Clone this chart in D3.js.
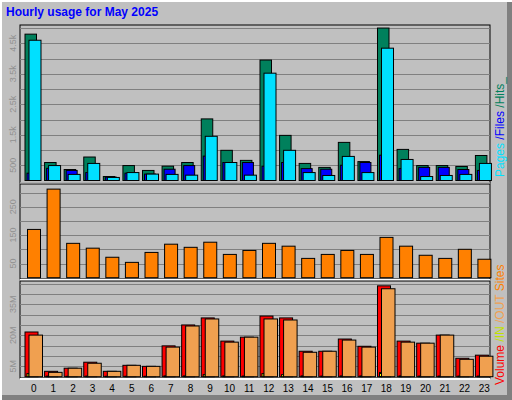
<!DOCTYPE html><html><head><meta charset="utf-8">
<script src="https://cdn.jsdelivr.net/npm/d3@7"></script>
<style>body{margin:0;background:#fff}</style></head><body>
<script>
const hours=d3.range(24).map(String);
const hits=[4800,590,360,770,130,490,330,470,590,2020,990,660,3950,1480,560,430,1250,620,5000,1020,490,490,460,820];
const files=[240,400,330,260,110,240,210,370,490,800,590,590,470,590,390,370,500,590,830,390,430,430,360,330];
const pages=[4600,490,200,560,100,260,210,200,175,1450,590,175,3520,990,260,165,790,260,4340,690,130,165,200,560];
const sites=[170,312,121,104,72,54,89,118,107,125,82,96,121,111,68,82,96,82,142,111,79,68,100,65];
const volume=[21.6,2.6,4.1,7.0,2.6,5.5,5.0,14.9,25.0,28.4,17.2,19.1,29.3,28.4,12.3,12.3,18.2,14.7,43.9,17.2,16.2,20.1,8.9,10.4];
const volIn=[1.5,0.3,0.2,0.3,0.2,0.2,0.2,0.4,0.4,1.0,0.4,0.3,1.5,1.0,0.4,0.3,0.4,0.4,2.0,0.4,0.3,0.3,0.3,0.3];
const volOut=[20.1,2.1,4.1,6.5,2.6,5.5,5.0,14.3,24.5,27.9,16.7,19.1,27.9,27.4,11.8,12.3,17.7,14.3,42.5,16.7,16.2,20.1,8.4,9.9];
const hitTicks=["500","1.5k","2.5k","3.5k","4.5k"], hitTickV=[500,1500,2500,3500,4500];
const siteTickV=[50,150,250], volTickV=[5,20,35];

const W=512,H=400;
const svg=d3.select("body").append("svg").attr("width",W).attr("height",H).style("font-family","Liberation Sans, Arial, sans-serif");
svg.append("rect").attr("width",W).attr("height",H).attr("fill","#c0c0c0");
svg.append("path").attr("d","M1,400V1H512").attr("stroke","#fff").attr("stroke-width",2).attr("fill","none");
svg.append("path").attr("d","M2,397.5H509.5V2").attr("stroke","#808080").attr("stroke-width",5).attr("fill","none");
svg.append("text").attr("x",6).attr("y",16).attr("fill","#0000ff").attr("font-weight","bold").attr("font-size",12).text("Hourly usage for May 2025");

const x=d3.scaleBand().domain(hours).range([20,490]);
const L=20,R=490;
function panel(top,bot){
  svg.append("rect").attr("x",L).attr("y",top).attr("width",R-L).attr("height",bot-top).attr("fill","#c0c0c0").attr("stroke","#000").attr("stroke-width",1);
}
function grid(y,step,max,top){
  for(let v=step;v<max;v+=step){const yy=Math.round(y(v))+0.5; if(yy>top+2) svg.append("line").attr("x1",L).attr("x2",R).attr("y1",yy).attr("y2",yy).attr("stroke","#808080");}
}
function ylabels(y,vals,txt){
  vals.forEach((v,i)=>svg.append("text").attr("transform",`translate(16,${y(v)}) rotate(-90)`).attr("text-anchor","middle").attr("font-size",9).attr("fill","#909090").text(txt[i]));
}
function bars(data,y,off,w,fill){
  svg.append("g").selectAll("rect").data(data).join("rect")
   .attr("x",(d,i)=>x(hours[i])+off).attr("y",d=>y(d)).attr("width",w).attr("height",d=>Math.max(0,y(0)-y(d)))
   .attr("fill",fill).attr("stroke","#000").attr("stroke-width",1);
}
const yH=d3.scaleLinear().domain([0,5100]).range([180.5,25]);
panel(25,183);
grid(yH,500,5100,25);
bars(hits,yH,5,11.5,"#00805c");
bars(files,yH,7,11,"#0000ff");
bars(pages,yH,9,12,"#00e0ff");
ylabels(yH,hitTickV,hitTicks);
svg.append("line").attr("x1",L).attr("x2",R).attr("y1",183.5).attr("y2",183.5).attr("stroke","#fff").attr("stroke-width",2);
const yS=d3.scaleLinear().domain([0,330]).range([277.7,184]);
panel(184,279);
grid(yS,50,330,184);
bars(sites,yS,7.5,13,"#ff8000");
ylabels(yS,siteTickV,siteTickV.map(String));
svg.append("line").attr("x1",L).attr("x2",R).attr("y1",280).attr("y2",280).attr("stroke","#fff").attr("stroke-width",2);
const yV=d3.scaleLinear().domain([0,46]).range([376.7,281.5]);
panel(281,378);
grid(yV,5,46,281);
bars(volume,yV,5,13,"#ff0000");
bars(volIn,yV,7,2,"#ffff00");
bars(volOut,yV,9,13.5,"#f0a050");
ylabels(yV,volTickV,volTickV.map(v=>v+"M"));
svg.append("line").attr("x1",L).attr("x2",R).attr("y1",379).attr("y2",379).attr("stroke","#fff").attr("stroke-width",2);
svg.append("g").selectAll("text").data(hours).join("text").attr("x",d=>x(d)+x.bandwidth()/2+4).attr("y",392).attr("text-anchor","middle").attr("font-size",10).attr("fill","#000").text(d=>d);
function vlabel(xx,yy,parts){
  const t=svg.append("text").attr("transform",`translate(${xx},${yy}) rotate(-90)`).attr("font-size",12);
  parts.forEach(p=>t.append("tspan").attr("fill",p[1]).text(p[0]));
}
vlabel(504,177,[["Pages ","#00e0ff"],["/Files ","#0000ff"],["/Hits_","#00805c"]]);
vlabel(504,385,[["Volume ","#ff0000"],["/IN ","#c0e000"],["/OUT ","#f0a050"],["Sites","#ff8000"]]);
</script></body></html>
